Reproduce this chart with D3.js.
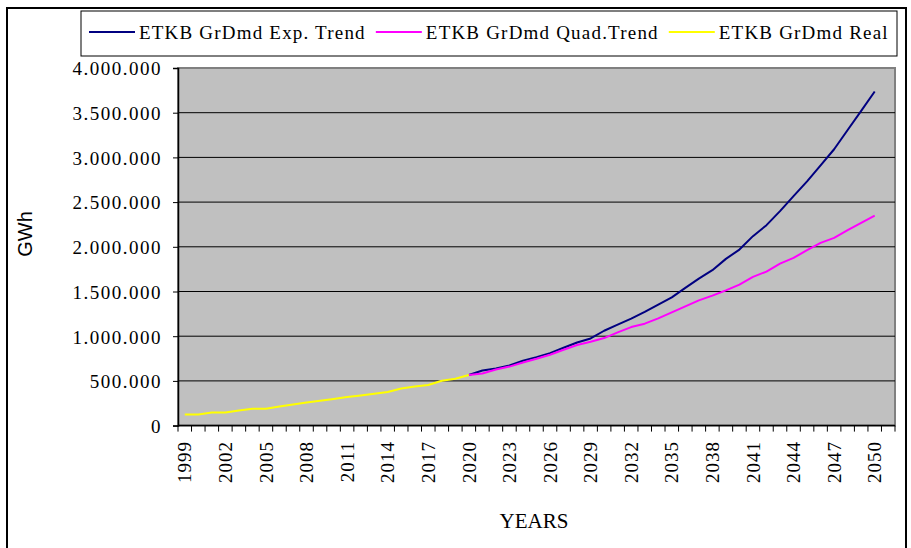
<!DOCTYPE html>
<html>
<head>
<meta charset="utf-8">
<script src="https://cdn.jsdelivr.net/npm/d3@7"></script>
<style>
  body { margin: 0; background: #fff; }
  svg { display: block; }
</style>
</head>
<body>
<svg id="chart" width="911" height="548"></svg>
<script>

// categories (last one is empty, as in the original sheet)
var years = [1999,2000,2001,2002,2003,2004,2005,2006,2007,2008,2009,2010,2011,2012,2013,2014,2015,2016,2017,2018,2019,2020,
  2021,2022,2023,2024,2025,2026,2027,2028,2029,2030,2031,2032,2033,2034,2035,2036,2037,2038,2039,2040,2041,2042,2043,2044,
  2045,2046,2047,2048,2049,2050,2051]

var real_years = [1999,2000,2001,2002,2003,2004,2005,2006,2007,2008,2009,2010,2011,2012,2013,2014,2015,2016,2017,2018,2019,2020]
var real_values = [124000,124000,146000,146000,169000,188000,188000,213000,236000,258000,278000,297000,319000,337000,356000,
  375000,416000,438000,454000,502000,525000,566000]

var trend_years = [2020,2021,2022,2023,2024,2025,2026,2027,2028,2029,2030,2031,2032,2033,2034,2035,2036,2037,2038,2039,2040,
  2041,2042,2043,2044,2045,2046,2047,2048,2049,2050]
var exp_values = [566000,617000,639000,672000,725000,766000,811000,871000,930000,975000,1061000,1129000,1196000,1271000,
  1353000,1435000,1540000,1644000,1738000,1865000,1969000,2119000,2242000,2399000,2567000,2732000,2911000,3091000,3307000,
  3520000,3737000]
var quad_values = [566000,583000,628000,660000,706000,747000,792000,848000,901000,938000,979000,1043000,1102000,1140000,
  1200000,1267000,1334000,1401000,1454000,1513000,1577000,1663000,1723000,1812000,1876000,1962000,2044000,2100000,2186000,
  2268000,2350000]

var y_ticks = [0,500000,1000000,1500000,2000000,2500000,3000000,3500000,4000000]

var series = [
  {name: "ETKB GrDmd Exp. Trend", color: "#000080", xs: trend_years, ys: exp_values},
  {name: "ETKB GrDmd Quad.Trend", color: "#FF00FF", xs: trend_years, ys: quad_values},
  {name: "ETKB GrDmd Real", color: "#FFFF00", xs: real_years, ys: real_values}
]

var serif = "'Liberation Serif', 'Times New Roman', serif"
var svg = d3.select("#chart")

// outer frame
svg.append("rect")
  .attr("x", 7).attr("y", 8).attr("width", 899).attr("height", 560)
  .attr("fill", "#fff").attr("stroke", "#000").attr("stroke-width", 2)

var plot = {left: 178, right: 895, top: 68, bottom: 425.6}

var x = d3.scaleBand().domain(years).range([plot.left, plot.right])
var y = d3.scaleLinear().domain([0, 4000000]).range([plot.bottom, plot.top])
var bw = x.bandwidth()

var fmt = d3.formatLocale({decimal: ",", thousands: ".", grouping: [3], currency: ["", ""]}).format(",d")

svg.append("rect")
  .attr("x", plot.left).attr("y", plot.top)
  .attr("width", plot.right - plot.left).attr("height", plot.bottom - plot.top)
  .attr("fill", "#C0C0C0").attr("stroke", "#808080").attr("stroke-width", 2)

// gridlines
svg.append("g").selectAll("line")
  .data(y_ticks.filter(function(d){ return d > 0 && d < 4000000 }))
  .enter().append("line")
    .attr("x1", plot.left).attr("x2", plot.right)
    .attr("y1", function(d){ return y(d) }).attr("y2", function(d){ return y(d) })
    .attr("stroke", "#000").attr("stroke-width", 1)

// y axis
var yAxis = svg.append("g")
  .attr("transform", "translate(" + plot.left + ",0)")
  .call(d3.axisLeft(y).tickValues(y_ticks).tickFormat(fmt).tickSize(5).tickPadding(11))
yAxis.select(".domain").attr("stroke", "#000").attr("stroke-width", 1.5)
yAxis.selectAll(".tick line").attr("stroke", "#000")
yAxis.selectAll("text")
  .attr("font-family", serif).attr("font-size", 19).attr("letter-spacing", "1.5px")
  .attr("fill", "#000").attr("dy", "0.36em")

// x axis: tick marks on category boundaries
var bounds = years.map(function(d){ return x(d) }).concat([plot.right])
svg.append("line")
  .attr("x1", plot.left).attr("x2", plot.right)
  .attr("y1", plot.bottom).attr("y2", plot.bottom)
  .attr("stroke", "#000").attr("stroke-width", 1.5)
svg.append("g").selectAll("line")
  .data(bounds)
  .enter().append("line")
    .attr("x1", function(d){ return d }).attr("x2", function(d){ return d })
    .attr("y1", plot.bottom).attr("y2", plot.bottom + 6)
    .attr("stroke", "#000").attr("stroke-width", 1)

svg.append("g").selectAll("text")
  .data(years.filter(function(d, i){ return i % 3 == 0 }))
  .enter().append("text")
    .attr("transform", function(d){ return "translate(" + (x(d) + bw / 2) + "," + 441 + ") rotate(-90)" })
    .attr("text-anchor", "end")
    .attr("dy", "0.35em")
    .attr("font-family", serif).attr("font-size", 19).attr("letter-spacing", "1px")
    .attr("fill", "#000")
    .text(function(d){ return d })

// lines
var line = d3.line()
  .x(function(d){ return x(d[0]) + bw / 2 })
  .y(function(d){ return y(d[1]) })

series.forEach(function(s){
  svg.append("path")
    .datum(d3.zip(s.xs, s.ys))
    .attr("fill", "none")
    .attr("stroke", s.color)
    .attr("stroke-width", 2)
    .attr("stroke-linejoin", "round")
    .attr("d", line)
})

// axis titles
svg.append("text")
  .attr("transform", "translate(25,234) rotate(-90)")
  .attr("text-anchor", "middle").attr("dy", "0.35em")
  .attr("font-family", "'Liberation Sans', Arial, sans-serif").attr("font-size", 20)
  .text("GWh")

svg.append("text")
  .attr("x", 534).attr("y", 528)
  .attr("text-anchor", "middle")
  .attr("font-family", serif).attr("font-size", 21)
  .text("YEARS")

// legend
svg.append("rect")
  .attr("x", 81).attr("y", 11).attr("width", 816).attr("height", 45)
  .attr("fill", "#fff").attr("stroke", "#000").attr("stroke-width", 1)

var lx = 89
series.forEach(function(s){
  svg.append("line")
    .attr("x1", lx).attr("x2", lx + 46).attr("y1", 32).attr("y2", 32)
    .attr("stroke", s.color).attr("stroke-width", 2)
  var t = svg.append("text")
    .attr("x", lx + 50).attr("y", 39)
    .attr("font-family", serif).attr("font-size", 19).attr("letter-spacing", "1.2px")
    .attr("fill", "#000")
    .text(s.name)
  lx = lx + 50 + t.node().getComputedTextLength() + 10
})

</script>
</body>
</html>
